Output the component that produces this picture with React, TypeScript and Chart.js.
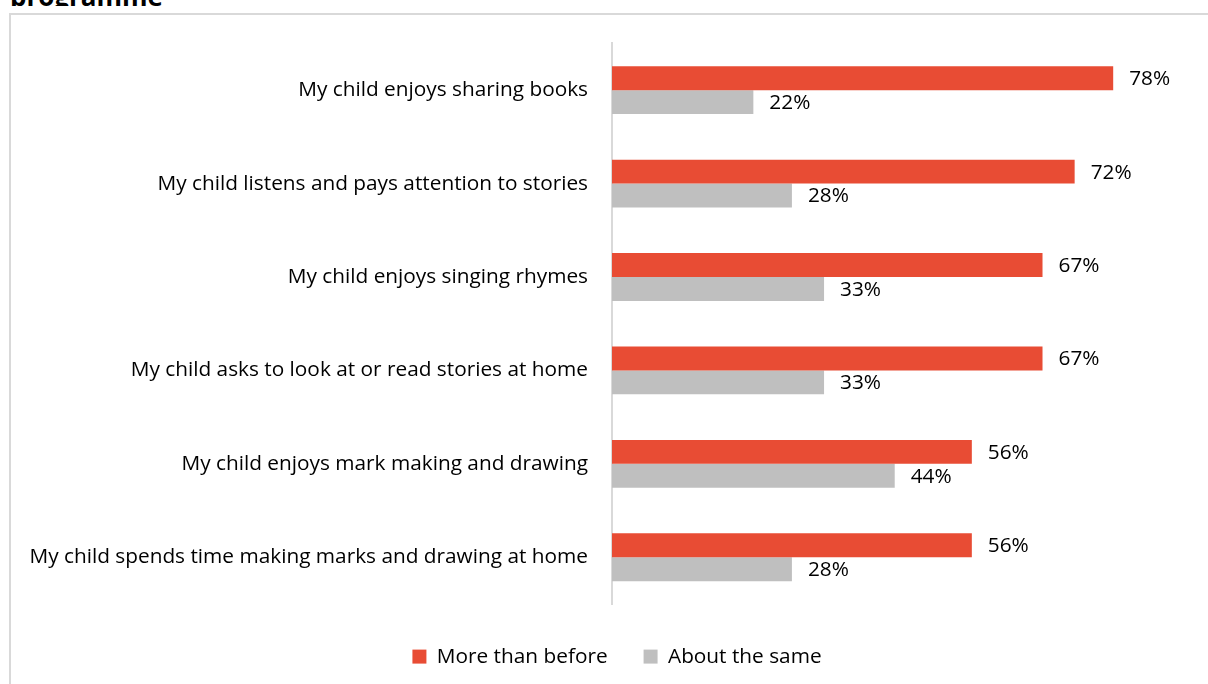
import React, { useEffect, useRef } from "react";
import { Chart, registerables } from "chart.js";

Chart.register(...registerables);

const categories = [
  "My child enjoys sharing books",
  "My child listens and pays attention to stories",
  "My child enjoys singing rhymes",
  "My child asks to look at or read stories at home",
  "My child enjoys mark making and drawing",
  "My child spends time making marks and drawing at home",
];
const moreThanBefore = [78, 72, 67, 67, 56, 56];
const aboutTheSame = [22, 28, 33, 33, 44, 28];
const seriesNames = ["More than before", "About the same"];
const titleText = "programme";

const FONT = "'Open Sans', 'Noto Sans', sans-serif";
const FS = 20.8;

const valueLabels = {
  id: "valueLabels",
  afterDatasetsDraw(chart: any) {
    const ctx = chart.ctx;
    ctx.save();
    ctx.font = `${FS}px ${FONT}`;
    ctx.fillStyle = "#000000";
    ctx.textBaseline = "middle";
    ctx.textAlign = "left";
    chart.data.datasets.forEach((ds: any, di: number) => {
      const meta = chart.getDatasetMeta(di);
      meta.data.forEach((el: any, i: number) => {
        ctx.fillText(ds.data[i] + "%", el.x + 16, el.y + 1);
      });
    });
    ctx.restore();
  },
};

export default function App() {
  const ref = useRef<HTMLCanvasElement>(null);
  useEffect(() => {
    const chart = new Chart(ref.current!, {
      type: "bar",
      data: {
        labels: categories,
        datasets: [
          {
            label: seriesNames[0],
            data: moreThanBefore,
            backgroundColor: "#E84C34",
            categoryPercentage: 0.512,
            barPercentage: 1,
          },
          {
            label: seriesNames[1],
            data: aboutTheSame,
            backgroundColor: "#BFBFBF",
            categoryPercentage: 0.512,
            barPercentage: 1,
          },
        ],
      },
      options: {
        indexAxis: "y",
        responsive: false,
        animation: false,
        devicePixelRatio: 1,
        layout: { padding: { top: 21, right: 0, bottom: 7, left: 0 } },
        scales: {
          x: { display: false, min: 0, max: 95.4 },
          y: {
            grid: { display: false, drawTicks: false },
            border: { display: true, color: "#D9D9D9", width: 2 },
            ticks: { padding: 24, color: "#000000", font: { size: FS, family: FONT } },
            afterFit: (scale: any) => {
              scale.width = 603;
            },
          },
        },
        plugins: {
          legend: {
            position: "bottom",
            title: { display: true, text: "", font: { size: 1 }, padding: { top: 5, bottom: 0 } },
            labels: {
              boxWidth: 14,
              boxHeight: 14,
              padding: 36,
              color: "#000000",
              font: { size: FS, family: FONT },
            },
          },
          tooltip: { enabled: false },
        },
      },
      plugins: [valueLabels],
    });
    return () => chart.destroy();
  }, []);

  return (
    <div
      style={{
        position: "fixed",
        left: 0,
        top: 0,
        width: 1208,
        height: 684,
        overflow: "hidden",
        background: "#fff",
      }}
    >
      <div
        style={{
          position: "absolute",
          left: 0,
          top: 0,
          width: 400,
          height: 6,
          overflow: "hidden",
        }}
      >
        <div
          style={{
            position: "absolute",
            left: 10,
            top: -17,
            fontFamily: FONT,
            fontWeight: 700,
            fontSize: 26,
            lineHeight: "26px",
            color: "#000",
            whiteSpace: "nowrap",
          }}
        >
          {titleText}
        </div>
      </div>
      <div
        style={{
          position: "absolute",
          left: 9,
          top: 13,
          width: 1400,
          height: 900,
          border: "2px solid #D9D9D9",
          boxSizing: "border-box",
        }}
      />
      <canvas
        ref={ref}
        width={1216}
        height={677}
        style={{ position: "absolute", left: 9, top: 7, width: 1216, height: 677 }}
      />
    </div>
  );
}
